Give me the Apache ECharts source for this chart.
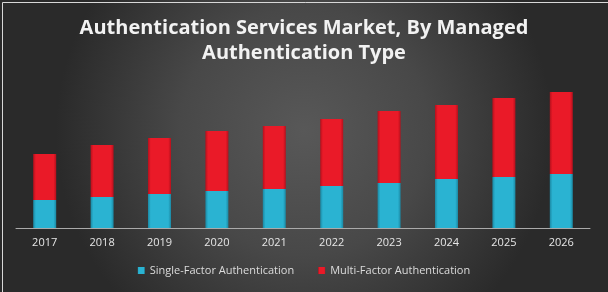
<!DOCTYPE html>
<html>
<head>
<meta charset="utf-8">
<script src="https://cdn.jsdelivr.net/npm/echarts@6/dist/echarts.min.js"></script>
<style>
  html, body { margin: 0; padding: 0; background: #fff; }
  #chart { width: 608px; height: 292px; }
</style>
</head>
<body>
<div id="chart"></div>
<script>
// data (relative units)
var years = ['2017', '2018', '2019', '2020', '2021', '2022', '2023', '2024', '2025', '2026'];
var singleFactor = [28, 31, 34, 37, 39, 42, 45, 49, 51, 54];
var multiFactor = [46, 52, 56, 60, 63, 67, 72, 74, 79, 82];

var chart = echarts.init(document.getElementById('chart'));

function barColor(edge, mid) {
  return {
    type: 'linear', x: 0, y: 0, x2: 1, y2: 0,
    colorStops: [
      { offset: 0, color: edge },
      { offset: 0.12, color: mid },
      { offset: 0.88, color: mid },
      { offset: 1, color: edge }
    ]
  };
}

var option = {
  backgroundColor: {
    type: 'radial', x: 0.5, y: 0.45, r: 0.85,
    colorStops: [
      { offset: 0, color: '#585858' },
      { offset: 0.5, color: '#484848' },
      { offset: 1, color: '#2a2a2a' }
    ]
  },
  title: {
    text: 'Authentication Services Market, By Managed\nAuthentication Type',
    left: 'center',
    top: 11,
    textStyle: {
      color: '#f2f2f2',
      fontFamily: 'Open Sans',
      fontWeight: 'bold',
      fontSize: 20,
      lineHeight: 25
    }
  },
  legend: {
    bottom: 11,
    left: 'center',
    itemWidth: 7,
    itemHeight: 7,
    itemGap: 24,
    itemTextGap: 4,
    icon: 'rect',
    textStyle: { color: '#dcdcdc', fontSize: 11, fontFamily: 'Open Sans' },
    data: ['Single-Factor Authentication', 'Multi-Factor Authentication']
  },
  grid: { left: 16, right: 18, top: 78, bottom: 64 },
  xAxis: {
    type: 'category',
    data: years,
    axisLine: { lineStyle: { color: '#aaaaaa', width: 1 } },
    axisTick: { show: false },
    axisLabel: { color: '#e6e6e6', fontSize: 11, fontFamily: 'Open Sans', margin: 9 }
  },
  yAxis: {
    type: 'value', min: 0, max: 150, show: false,
    splitLine: { show: false }
  },
  series: [
    {
      name: 'Single-Factor Authentication',
      type: 'bar',
      stack: 'total',
      barWidth: 23,
      data: singleFactor,
      itemStyle: {
        color: barColor('#1b88a3', '#2ab3d2'),
        shadowBlur: 4,
        shadowColor: 'rgba(0,0,0,0.5)',
        shadowOffsetX: 2
      }
    },
    {
      name: 'Multi-Factor Authentication',
      type: 'bar',
      stack: 'total',
      barWidth: 23,
      data: multiFactor,
      itemStyle: {
        color: barColor('#b5101c', '#ea1a28'),
        shadowBlur: 4,
        shadowColor: 'rgba(0,0,0,0.5)',
        shadowOffsetX: 2
      }
    }
  ],
  graphic: [
    {
      type: 'rect',
      left: 0, top: 0,
      shape: { width: 607, height: 291 },
      style: { fill: 'none', stroke: '#d8d8d8', lineWidth: 1 },
      silent: true
    }
  ]
};

chart.setOption(option);
window.addEventListener('resize', chart.resize);
</script>
</body>
</html>
